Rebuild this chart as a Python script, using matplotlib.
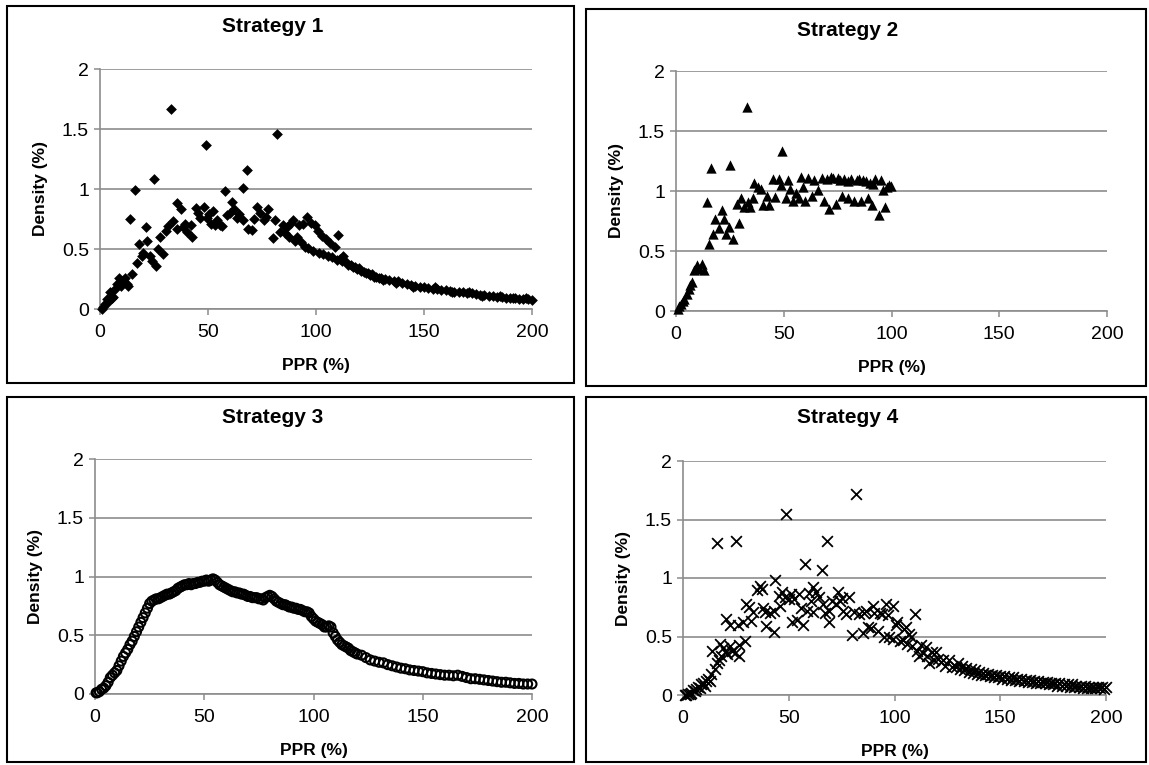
"""Density of PPR (%) for four strategies - 2x2 Excel-style scatter panels."""

import matplotlib
matplotlib.use("Agg")
import matplotlib.pyplot as plt
from matplotlib.patches import Rectangle

plt.rcParams["font.family"] = ["Liberation Sans", "DejaVu Sans"]

W, H = 1149, 765

# ---- data ----
s1_x = [0.8, 1.5, 2.3, 3.1, 3.9, 4.6, 5.4, 6.2, 7.0, 7.7,
        8.9, 9.6, 10.5, 11.6, 12.3, 13.1, 13.9, 14.8, 16.2, 17.1,
        18.0, 19.3, 20.0, 21.2, 21.9, 23.1, 24.0, 25.1, 26.0, 27.0,
        27.8, 29.0, 30.5, 31.6, 32.9, 34.0, 35.5, 35.8, 37.3, 38.5,
        39.4, 40.1, 42.0, 42.7, 44.3, 45.3, 46.3, 48.1, 48.9, 49.4,
        50.3, 51.2, 52.2, 53.2, 54.0, 55.5, 56.6, 57.7, 58.6, 60.0,
        61.1, 62.0, 63.3, 64.4, 66.0, 66.4, 68.2, 68.7, 70.2, 71.3,
        72.5, 74.0, 75.9, 77.0, 77.9, 79.9, 81.0, 82.0, 83.3, 84.5,
        85.5, 86.4, 87.5, 88.5, 89.5, 90.5, 91.0, 92.0, 93.0, 94.0,
        95.0, 95.7, 96.5, 97.8, 98.8, 99.5, 100.9, 101.5, 103.0, 103.4,
        104.5, 105.5, 106.5, 107.5, 108.6, 109.5, 110.3, 111.0, 112.0, 112.6,
        114, 115, 116, 117, 118, 119, 120, 121, 122, 123,
        124, 125, 126, 127, 128, 129, 130, 131, 132, 134,
        136, 137, 138, 140, 142, 144, 145, 146, 148, 150,
        152, 154, 155, 156, 158, 160, 162, 163, 164, 166,
        168, 170, 171, 172, 174, 176, 177, 178, 180, 182,
        184, 185, 186, 188, 190, 191, 192, 194, 196, 197,
        198, 200]
s1_y = [0.00, 0.02, 0.04, 0.08, 0.06, 0.14, 0.09, 0.10, 0.17, 0.21,
        0.26, 0.19, 0.23, 0.26, 0.21, 0.19, 0.75, 0.29, 0.99, 0.38,
        0.54, 0.44, 0.47, 0.68, 0.57, 0.44, 0.40, 1.08, 0.36, 0.50,
        0.60, 0.46, 0.65, 0.69, 1.67, 0.73, 0.67, 0.88, 0.83, 0.68,
        0.71, 0.64, 0.70, 0.60, 0.84, 0.80, 0.76, 0.85, 1.37, 0.76,
        0.79, 0.71, 0.82, 0.70, 0.74, 0.70, 0.69, 0.98, 0.78, 0.80,
        0.89, 0.83, 0.76, 0.79, 1.01, 0.74, 1.16, 0.67, 0.66, 0.75,
        0.85, 0.80, 0.74, 0.77, 0.83, 0.59, 0.74, 1.46, 0.64, 0.70,
        0.63, 0.68, 0.60, 0.72, 0.74, 0.57, 0.60, 0.70, 0.56, 0.71,
        0.52, 0.77, 0.51, 0.72, 0.48, 0.70, 0.65, 0.47, 0.61, 0.46,
        0.58, 0.44, 0.55, 0.43, 0.52, 0.41, 0.62, 0.42, 0.40, 0.44,
        0.39, 0.37, 0.37, 0.35, 0.35, 0.33, 0.34, 0.32, 0.31, 0.30,
        0.30, 0.28, 0.29, 0.27, 0.27, 0.26, 0.26, 0.24, 0.25, 0.24,
        0.235, 0.22, 0.23, 0.22, 0.21, 0.20, 0.185, 0.195, 0.185, 0.18,
        0.175, 0.17, 0.18, 0.165, 0.16, 0.155, 0.15, 0.14, 0.145, 0.14,
        0.14, 0.135, 0.14, 0.13, 0.125, 0.12, 0.11, 0.115, 0.11, 0.105,
        0.10, 0.11, 0.10, 0.095, 0.09, 0.095, 0.09, 0.085, 0.08, 0.09,
        0.08, 0.075]

s2_x = [0.8, 1.5, 2.3, 3.1, 3.9, 4.9, 5.9, 6.6, 7.4, 8.5,
        9.6, 10.8, 12.1, 13.1, 14.2, 15.1, 16.2, 17.0, 18.2, 19.8,
        21.3, 22.4, 23.2, 24.4, 25.0, 26.3, 28.1, 29.1, 30.1, 31.7,
        32.9, 33.2, 34.3, 35.9, 36.3, 37.9, 39.4, 40.2, 42.0, 43.3,
        44.8, 46.1, 47.6, 48.7, 49.1, 51.0, 51.8, 53.0, 54.1, 55.7,
        57.2, 58.0, 59.1, 60.0, 61.1, 63.1, 64.1, 65.7, 67.7, 68.8,
        70.0, 71.1, 71.9, 73.0, 74.2, 75.0, 76.0, 77.0, 78.0, 79.6,
        80.0, 81.1, 82.7, 83.8, 85.0, 85.8, 86.9, 88.0, 88.9, 89.9,
        90.9, 91.5, 92.4, 94.0, 95.0, 96.1, 97.1, 98.0, 98.9, 99.6]
s2_y = [0.02, 0.04, 0.06, 0.08, 0.10, 0.14, 0.18, 0.22, 0.24, 0.34,
        0.38, 0.35, 0.39, 0.34, 0.91, 0.56, 1.19, 0.64, 0.77, 0.69,
        0.84, 0.77, 0.64, 0.70, 1.22, 0.60, 0.89, 0.73, 0.94, 0.87,
        1.70, 0.91, 0.87, 0.94, 1.07, 1.03, 1.02, 0.88, 0.96, 0.88,
        1.10, 0.95, 1.10, 1.05, 1.33, 0.94, 1.09, 1.02, 0.92, 0.98,
        0.94, 1.12, 1.03, 0.92, 1.11, 0.96, 1.09, 1.01, 1.11, 0.92,
        1.10, 0.85, 1.12, 1.11, 0.89, 1.11, 1.09, 0.96, 1.10, 0.94,
        1.08, 1.10, 0.92, 1.09, 1.10, 0.92, 1.09, 1.08, 0.94, 1.07,
        0.88, 1.06, 1.10, 0.80, 1.09, 1.01, 0.87, 1.03, 1.05, 1.04]

s3_x = [0.5, 1, 2, 3, 4, 5, 6, 7, 8, 9,
        10, 11, 12, 13, 14, 15, 16, 17, 18, 19,
        20, 21, 22, 23, 24, 25, 26, 27, 28, 29,
        30, 31, 32, 33, 34, 35, 36, 37, 38, 39,
        40, 41, 42, 43, 44, 45, 46, 47, 48, 49,
        50, 51, 52, 53, 54, 55, 56, 57, 58, 59,
        60, 61, 62, 63, 64, 65, 66, 67, 68, 69,
        70, 71, 72, 73, 74, 75, 76, 77, 78, 79,
        80, 81, 82, 83, 84, 85, 86, 87, 88, 89,
        90, 91, 92, 93, 94, 95, 96, 97, 98, 99,
        100, 101, 102, 103, 104, 105, 106, 107, 108, 109,
        110, 111, 112, 113, 114, 115, 116, 117, 118, 119,
        120, 122, 124, 126, 128, 130, 132, 134, 136, 138,
        140, 142, 144, 146, 148, 150, 152, 154, 156, 158,
        160, 162, 164, 166, 168, 170, 172, 174, 176, 178,
        180, 182, 184, 186, 188, 190, 192, 194, 196, 198,
        200]
s3_y = [0.01, 0.01, 0.02, 0.04, 0.05, 0.07, 0.10, 0.14, 0.16, 0.18,
        0.20, 0.24, 0.28, 0.32, 0.35, 0.38, 0.42, 0.45, 0.49, 0.53,
        0.57, 0.61, 0.65, 0.69, 0.73, 0.77, 0.79, 0.80, 0.81, 0.81,
        0.82, 0.83, 0.84, 0.85, 0.85, 0.86, 0.87, 0.88, 0.90, 0.91,
        0.92, 0.93, 0.93, 0.94, 0.93, 0.94, 0.94, 0.95, 0.95, 0.96,
        0.96, 0.97, 0.96, 0.97, 0.98, 0.97, 0.95, 0.93, 0.92, 0.91,
        0.90, 0.89, 0.88, 0.87, 0.87, 0.86, 0.86, 0.85, 0.85, 0.84,
        0.83, 0.83, 0.82, 0.82, 0.82, 0.81, 0.81, 0.80, 0.82, 0.83,
        0.84, 0.83, 0.81, 0.79, 0.78, 0.77, 0.76, 0.76, 0.75, 0.74,
        0.74, 0.73, 0.73, 0.72, 0.72, 0.71, 0.70, 0.70, 0.69, 0.66,
        0.64, 0.62, 0.61, 0.60, 0.59, 0.57, 0.57, 0.58, 0.57, 0.52,
        0.49, 0.46, 0.44, 0.42, 0.41, 0.40, 0.39, 0.37, 0.36, 0.35,
        0.34, 0.33, 0.31, 0.29, 0.28, 0.27, 0.265, 0.25, 0.24, 0.23,
        0.22, 0.215, 0.205, 0.20, 0.195, 0.19, 0.18, 0.175, 0.17, 0.165,
        0.16, 0.16, 0.155, 0.16, 0.15, 0.14, 0.13, 0.13, 0.125, 0.12,
        0.115, 0.11, 0.105, 0.10, 0.10, 0.095, 0.09, 0.09, 0.085, 0.085,
        0.085]

s4_x = [0.8, 1.5, 2.4, 3.2, 4.0, 4.7, 5.5, 6.3, 7.1, 8.0,
        8.7, 9.4, 10.2, 11.0, 11.8, 12.6, 13.4, 13.8, 15.0, 16.0,
        16.0, 17.0, 17.6, 18.1, 19.0, 20.1, 20.4, 21.0, 22.0, 22.0,
        23.0, 24.4, 25.2, 25.9, 26.4, 26.7, 28.3, 29.1, 29.6, 31.1,
        32.0, 33.3, 34.9, 36.5, 37.4, 38.0, 39.0, 39.3, 41.0, 42.8,
        43.2, 43.7, 45.6, 45.9, 47.0, 48.4, 48.7, 50.0, 51.1, 51.6,
        52.7, 53.8, 55.0, 55.8, 56.6, 57.9, 58.5, 59.4, 60.5, 61.6,
        61.6, 63.0, 64.2, 65.7, 66.0, 67.0, 68.1, 68.9, 69.2, 70.5,
        72.3, 73.1, 74.0, 75.2, 75.8, 77.0, 78.3, 79.9, 81.0, 81.8,
        83.0, 84.9, 85.5, 86.5, 87.5, 88.8, 89.6, 90.5, 92.0, 93.0,
        94.0, 95.0, 95.9, 97.0, 97.5, 99.1, 99.5, 100.5, 101.4, 102.5,
        103.8, 104.5, 105.3, 106.0, 106.9, 108.0, 108.5, 109.7, 110.8, 111.6,
        112.5, 113.5, 114.8, 115.5, 116.4, 117.5, 118.5, 119.5, 120.5, 121.9,
        123, 124, 125.8, 127, 128.9, 130, 131, 132, 133, 134,
        135, 136, 137, 138, 139, 140, 141, 142, 143, 144,
        145, 146, 147, 148, 149, 150, 151, 152, 153, 154,
        155, 156, 157, 158, 159, 160, 161, 162, 163, 164,
        165, 166, 167, 168, 169, 170, 171, 172, 173, 174,
        175, 176, 177, 178, 179, 180, 181, 182, 183, 184,
        185, 186, 187, 188, 189, 190, 191, 192, 193, 194,
        195, 196, 197, 198, 199, 200]
s4_y = [0.00, 0.00, 0.01, 0.01, 0.02, 0.04, 0.03, 0.05, 0.07, 0.06,
        0.09, 0.10, 0.08, 0.12, 0.14, 0.12, 0.18, 0.38, 0.22, 1.30,
        0.27, 0.30, 0.44, 0.33, 0.40, 0.37, 0.65, 0.35, 0.60, 0.42,
        0.38, 0.36, 1.32, 0.60, 0.43, 0.33, 0.62, 0.46, 0.78, 0.75,
        0.63, 0.71, 0.90, 0.93, 0.91, 0.74, 0.71, 0.59, 0.70, 0.72,
        0.54, 0.98, 0.85, 0.76, 0.88, 0.84, 1.55, 0.82, 0.86, 0.62,
        0.82, 0.64, 0.86, 0.74, 0.60, 1.12, 0.72, 0.87, 0.80, 0.92,
        0.71, 0.88, 0.84, 1.07, 0.78, 0.70, 1.32, 0.72, 0.62, 0.80,
        0.78, 0.88, 0.80, 0.83, 0.72, 0.69, 0.84, 0.51, 0.71, 1.72,
        0.69, 0.53, 0.70, 0.72, 0.58, 0.57, 0.76, 0.70, 0.55, 0.70,
        0.69, 0.50, 0.78, 0.68, 0.50, 0.76, 0.48, 0.60, 0.62, 0.46,
        0.47, 0.56, 0.58, 0.44, 0.52, 0.50, 0.42, 0.69, 0.38, 0.33,
        0.43, 0.36, 0.41, 0.33, 0.27, 0.37, 0.30, 0.37, 0.31, 0.28,
        0.30, 0.25, 0.30, 0.24, 0.24, 0.27, 0.22, 0.25, 0.21, 0.23,
        0.20, 0.22, 0.19, 0.21, 0.18, 0.20, 0.17, 0.19, 0.17, 0.18,
        0.16, 0.17, 0.15, 0.17, 0.15, 0.16, 0.14, 0.16, 0.14, 0.15,
        0.13, 0.15, 0.13, 0.14, 0.12, 0.14, 0.12, 0.13, 0.11, 0.13,
        0.11, 0.12, 0.10, 0.12, 0.10, 0.11, 0.10, 0.11, 0.09, 0.10,
        0.09, 0.10, 0.08, 0.10, 0.08, 0.09, 0.08, 0.09, 0.07, 0.09,
        0.07, 0.08, 0.07, 0.08, 0.06, 0.08, 0.06, 0.07, 0.06, 0.07,
        0.06, 0.07, 0.06, 0.07, 0.05, 0.07]

x_ticks = [0, 50, 100, 150, 200]
y_ticks = [0, 0.5, 1, 1.5, 2]
y_labels = ["0", "0.5", "1", "1.5", "2"]

GRID = "#8c8c8c"


def px_box(x0, y0, x1, y1):
    """pixel box (top-left origin) -> figure fraction [l, b, w, h]"""
    return [x0 / W, 1 - y1 / H, (x1 - x0) / W, (y1 - y0) / H]


fig = plt.figure(figsize=(W / 100, H / 100), dpi=100)

panels = [
    # title, x, y, marker style, plot area px, frame px
    ("Strategy 1", s1_x, s1_y, dict(marker="D", s=30, c="black", linewidths=0),
     (100, 69, 532, 309), (7, 6, 574, 383)),
    ("Strategy 2", s2_x, s2_y, dict(marker="^", s=55, c="black", linewidths=0),
     (676, 71, 1107, 311), (586, 9, 1146, 386)),
    ("Strategy 3", s3_x, s3_y, dict(marker="o", s=42, facecolors="none",
                                     edgecolors="black", linewidths=1.5),
     (95, 459, 532, 694), (7, 397, 574, 762)),
    ("Strategy 4", s4_x, s4_y, dict(marker="x", s=60, c="black", linewidths=1.3),
     (683, 461, 1106, 695), (586, 397, 1146, 762)),
]

for title, xs, ys, style, area, frame in panels:
    ax = fig.add_axes(px_box(*area))
    ax.scatter(xs, ys, clip_on=False, zorder=3, **style)

    ax.set_xlim(0, 200)
    ax.set_ylim(0, 2)
    ax.set_xticks(x_ticks)
    ax.set_yticks(y_ticks)
    ax.set_yticklabels(y_labels)
    ax.tick_params(axis="both", direction="out", length=4, width=1.1,
                   color=GRID, labelsize=14, labelcolor="black")
    ax.tick_params(axis="x", pad=7)
    ax.tick_params(axis="y", pad=4)

    ax.grid(axis="y", color=GRID, linewidth=1.2, zorder=0)
    ax.set_axisbelow(True)
    for side in ("top", "right"):
        ax.spines[side].set_visible(False)
    for side in ("left", "bottom"):
        ax.spines[side].set_color(GRID)
        ax.spines[side].set_linewidth(1.2)

    ax.set_xlabel("PPR (%)", fontsize=12.5, fontweight="bold", labelpad=12)
    ax.set_ylabel("Density (%)", fontsize=12.5, fontweight="bold", labelpad=10)

    fx0, fy0, fx1, fy1 = frame
    fig.text((fx0 + fx1) / 2 / W - 18 / W, 1 - (fy0 + 21) / H, title,
             ha="center", va="center", fontsize=15, fontweight="bold")
    fig.add_artist(Rectangle((fx0 / W, 1 - fy1 / H), (fx1 - fx0) / W, (fy1 - fy0) / H,
                             transform=fig.transFigure, fill=False,
                             edgecolor="black", linewidth=1.5))

fig.savefig("out.png", dpi=100, facecolor="white")
